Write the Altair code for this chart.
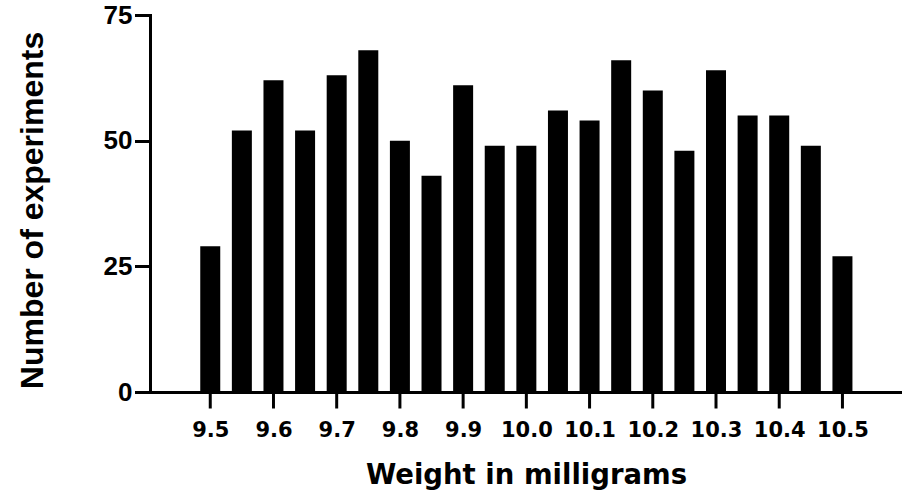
import altair as alt
import pandas as pd

weights = [9.50, 9.55, 9.60, 9.65, 9.70, 9.75, 9.80, 9.85, 9.90, 9.95, 10.00,
           10.05, 10.10, 10.15, 10.20, 10.25, 10.30, 10.35, 10.40, 10.45, 10.50]
counts = [29, 52, 62, 52, 63, 68, 50, 43, 61, 49, 49,
          56, 54, 66, 60, 48, 64, 55, 55, 49, 27]
x_ticks = [9.5, 9.6, 9.7, 9.8, 9.9, 10.0, 10.1, 10.2, 10.3, 10.4, 10.5]
y_ticks = [0, 25, 50, 75]

df = pd.DataFrame({"weight": weights, "count": counts})
ticks_df = pd.DataFrame({"weight": x_ticks})

xscale = alt.Scale(domain=[9.4126, 10.5863], nice=False, zero=False)
H = 377

xaxis = alt.Axis(values=x_ticks, format=".1f", title="Weight in milligrams",
                 grid=False, domainColor="#000000", domainWidth=3, domainCap="square",
                 ticks=False, zindex=0,
                 labelFont="DejaVu Sans", labelFontWeight="bold", labelFontSize=21,
                 labelColor="#000000", labelPadding=27, labelFlush=False,
                 titleFont="DejaVu Sans", titleFontWeight="bold", titleFontSize=27.5,
                 titleColor="#000000", titleBaseline="alphabetic", titleY=91)

bars = alt.Chart(df).mark_bar(size=20, color="#000000").encode(
    x=alt.X("weight:Q", scale=xscale, axis=xaxis),
    y=alt.Y("count:Q",
            scale=alt.Scale(domain=[0, 75], nice=False),
            axis=alt.Axis(values=y_ticks, title="Number of experiments",
                          grid=False, domainColor="#000000", domainWidth=3, domainCap="square",
                          ticks=True, tickColor="#000000", tickWidth=3, tickSize=14, tickCap="square",
                          zindex=1,
                          labelFont="Liberation Sans", labelFontWeight="bold", labelFontSize=26,
                          labelColor="#000000", labelPadding=4, labelFlush=False,
                          titleFont="Liberation Sans", titleFontWeight="bold", titleFontSize=32,
                          titleColor="#000000", titleAngle=270, titleBaseline="alphabetic",
                          titleAlign="center", titleX=-108, titleY=195)),
)

xticks = alt.Chart(ticks_df).mark_rule(color="#000000", strokeWidth=3, strokeCap="square").encode(
    x=alt.X("weight:Q", scale=xscale),
    y=alt.value(H),
    y2=alt.value(H + 15),
)

chart = alt.layer(bars, xticks).properties(
    width=752, height=H,
    autosize=alt.AutoSizeParams(type="none"),
    padding={"left": 150, "top": 15, "right": 0, "bottom": 107},
    background="white",
).configure_view(stroke="transparent", strokeWidth=0)

chart.save("out.html", embed_options={"renderer": "svg", "actions": False})
